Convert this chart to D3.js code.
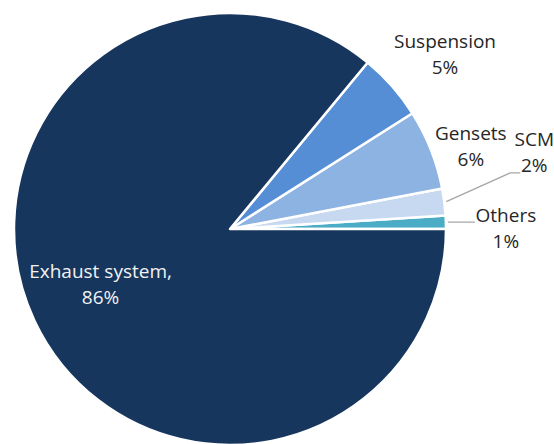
<!DOCTYPE html>
<html>
<head>
<meta charset="utf-8">
<script src="https://cdn.jsdelivr.net/npm/d3@7"></script>
<style>
  body { margin: 0; background: #fff; }
  svg text { font-family: "Open Sans", Lato, sans-serif; font-size: 19px; }
</style>
</head>
<body>
<script>
// data
const categories = ["Others", "SCM", "Gensets", "Suspension", "Exhaust system,"];
const shares = [1, 2, 6, 5, 86];
const shareLabels = ["1%", "2%", "6%", "5%", "86%"];
const colors = ["#4bacc6", "#c6d9f1", "#8db3e2", "#558ed5", "#17365d"];

function main(){
    const width = 554, height = 444;
    const cx = 230, cy = 229, radius = 216;

    // label offsets from the slice's outer edge point (first baseline, centre)
    const labelOffset = [[60, 0], [90, -56], [40, -10], [53, -38], [66, -43]];
    const lineGap = 26;

    const svg = d3.select("body").append("svg")
        .attr("width", width)
        .attr("height", height);

    const g = svg.append("g")
        .attr("transform", "translate(" + cx + "," + cy + ")");

    // start at 3 o'clock and go counter-clockwise
    const pie = d3.pie()
        .sort(null)
        .value(d => d.value)
        .startAngle(Math.PI / 2)
        .endAngle(Math.PI / 2 - 2 * Math.PI);

    const rows = categories.map((c, i) => ({name: c, value: shares[i], label: shareLabels[i], color: colors[i], i: i}));
    const arcs = pie(rows);

    const arc = d3.arc().innerRadius(0).outerRadius(radius);
    const edge = d3.arc().innerRadius(radius).outerRadius(radius);
    const edgeOut = d3.arc().innerRadius(radius + 2).outerRadius(radius + 2);

    g.selectAll("path.slice")
        .data(arcs)
        .enter().append("path")
        .attr("class", "slice")
        .attr("d", arc)
        .attr("fill", d => d.data.color)
        .attr("stroke", "#fff")
        .attr("stroke-width", 2.5)
        .attr("stroke-linejoin", "round");

    const anchor = d => {
        const p = edge.centroid(d);
        const o = labelOffset[d.data.i];
        return [p[0] + o[0], p[1] + o[1]];
    };

    // leader lines for the two thin slices
    const leaders = {
        "SCM": [[-24, 27], [-14, 27]],
        "Others": [[-31, 0], [-31, 0]]
    };
    arcs.filter(d => leaders[d.data.name]).forEach(d => {
        const s = edgeOut.centroid(d);
        const a = anchor(d);
        const pts = [s].concat(leaders[d.data.name].map(o => [a[0] + o[0], a[1] + o[1]]));
        g.append("path")
            .attr("d", d3.line()(pts))
            .attr("fill", "none")
            .attr("stroke", "#a6a6a6")
            .attr("stroke-width", 1.3);
    });

    const labels = g.selectAll("text.lbl")
        .data(arcs)
        .enter().append("text")
        .attr("class", "lbl")
        .attr("text-anchor", "middle")
        .attr("fill", d => d.data.name === "Exhaust system," ? "#f2f2f2" : "#262626");

    labels.append("tspan")
        .attr("x", d => anchor(d)[0])
        .attr("y", d => anchor(d)[1])
        .text(d => d.data.name);

    labels.append("tspan")
        .attr("x", d => anchor(d)[0])
        .attr("y", d => anchor(d)[1] + lineGap)
        .text(d => d.data.label);
}
main();
</script>
</body>
</html>
